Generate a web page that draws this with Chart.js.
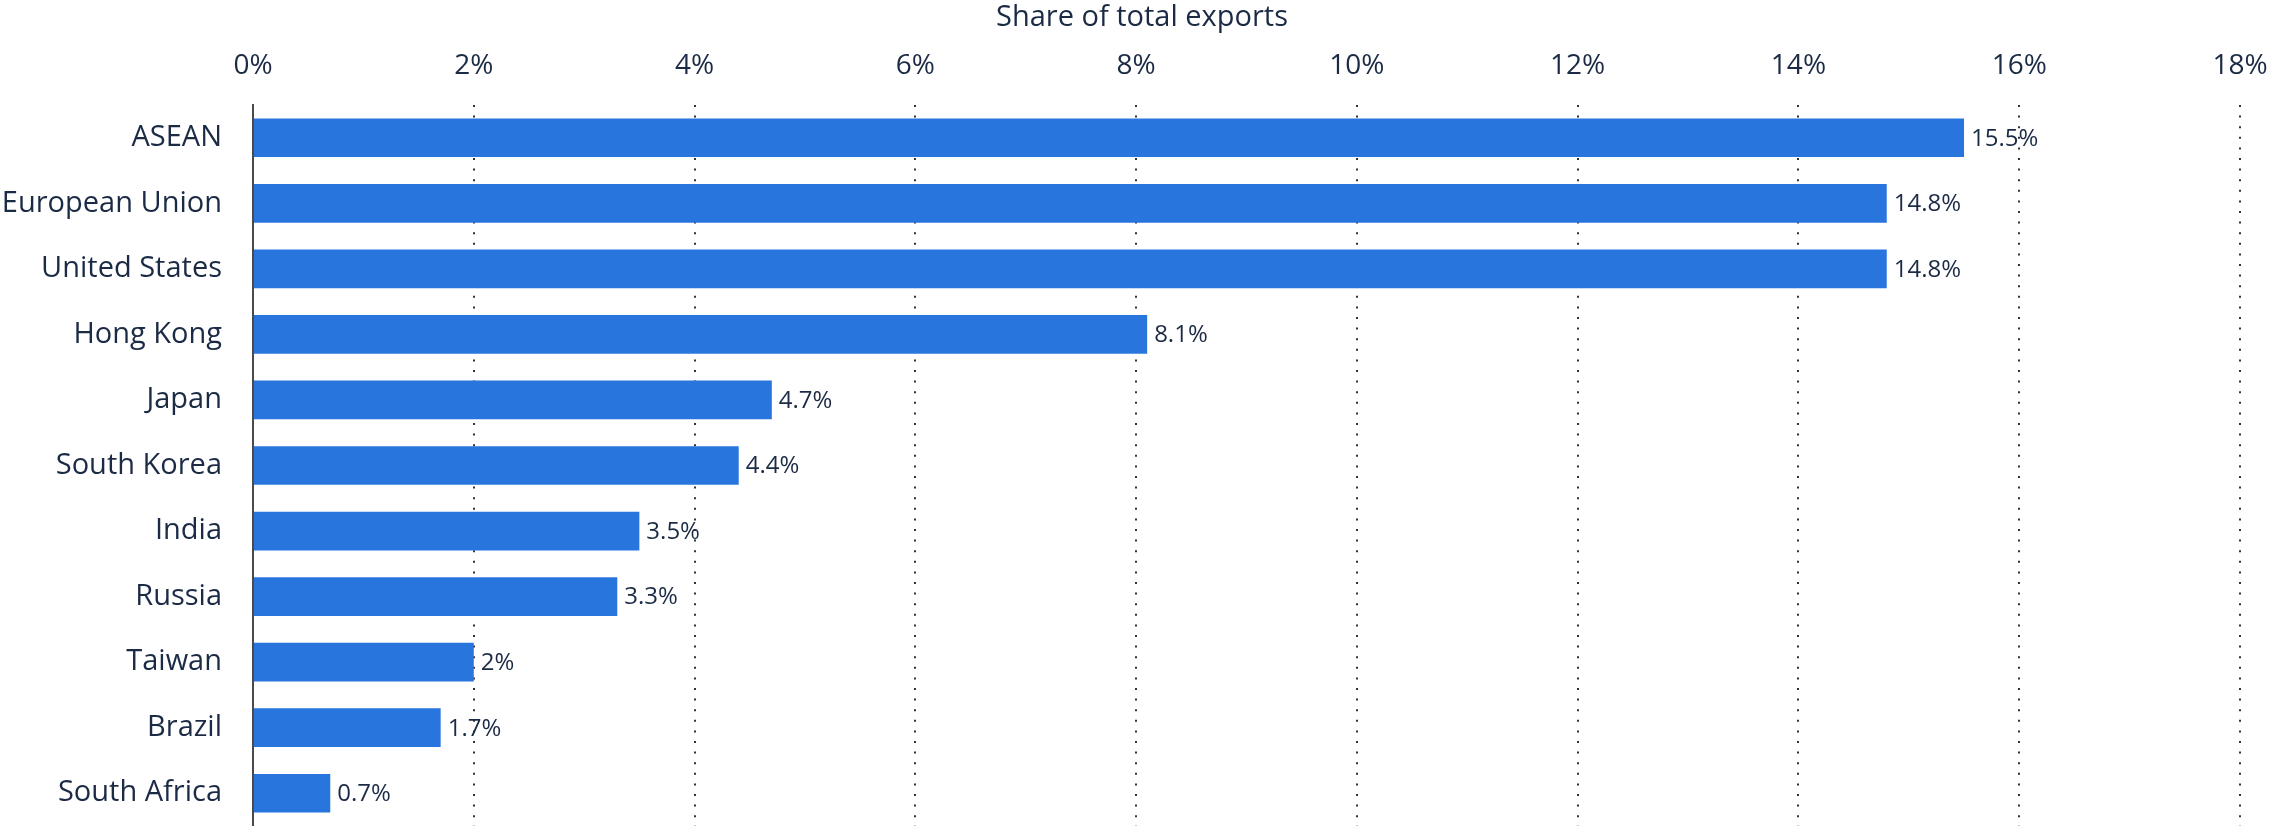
<!DOCTYPE html>
<html>
<head>
<meta charset="utf-8">
<script src="https://cdn.jsdelivr.net/npm/chart.js@4"></script>
<style>
  html, body { margin: 0; padding: 0; background: #fff; }
  #wrap { width: 2271px; height: 826px; }
</style>
</head>
<body>
<div id="wrap"><canvas id="exportsChart" width="2271" height="826"></canvas></div>
<script>
// Share of total exports by destination

const regions = ['ASEAN', 'European Union', 'United States', 'Hong Kong', 'Japan',
  'South Korea', 'India', 'Russia', 'Taiwan', 'Brazil', 'South Africa'];
const shares = [15.5, 14.8, 14.8, 8.1, 4.7, 4.4, 3.5, 3.3, 2, 1.7, 0.7];
const tickMax = 18;
const tickStep = 2;

const navy = '#1c2b45';
const barBlue = '#2876dd';

Chart.defaults.font.family = '"Open Sans", sans-serif';
Chart.defaults.color = navy;

// value labels at the end of each bar
const barLabels = {
  id: 'barLabels',
  afterDatasetsDraw(chart) {
    const ctx = chart.ctx;
    const meta = chart.getDatasetMeta(0);
    ctx.save();
    ctx.font = '24px "Open Sans", sans-serif';
    ctx.fillStyle = navy;
    ctx.textAlign = 'left';
    ctx.textBaseline = 'middle';
    meta.data.forEach((bar, i) => {
      ctx.fillText(shares[i] + '%', bar.x + 7, bar.y + 1);
    });
    ctx.restore();
  }
};

new Chart(document.getElementById('exportsChart'), {
  type: 'bar',
  data: {
    labels: regions,
    datasets: [{
      data: shares,
      backgroundColor: barBlue,
      borderWidth: 0,
      barPercentage: 0.59,
      categoryPercentage: 1
    }]
  },
  options: {
    indexAxis: 'y',
    responsive: false,
    animation: false,
    // negative right padding nudges the centred title to match the original
    layout: { padding: { left: 0, right: -13, top: 0, bottom: 0 } },
    plugins: {
      legend: { display: false },
      tooltip: { enabled: false },
      title: {
        display: true,
        text: 'Share of total exports',
        color: navy,
        font: { size: 29, weight: 'normal' },
        padding: { top: 0, bottom: 14.6 }
      }
    },
    scales: {
      x: {
        position: 'top',
        min: 0,
        max: tickMax,
        ticks: {
          stepSize: tickStep,
          padding: 22,
          color: navy,
          font: { size: 28 },
          callback: v => v + '%'
        },
        grid: {
          drawTicks: false,
          color: c => (c.tick && c.tick.value === 0) ? 'rgba(0,0,0,0)' : '#333',
          lineWidth: 2,
          borderDash: [2, 8.6]
        },
        border: { display: false, dash: [2, 8.6] },
        afterFit: scale => {
          scale.height = 55.6;
          scale.paddingLeft = 0;
          scale.paddingRight = 31;
        }
      },
      y: {
        ticks: {
          padding: 31,
          color: navy,
          font: { size: 29 }
        },
        grid: { display: false, drawTicks: false },
        border: { display: true, color: '#4a4a4a', width: 2 },
        afterFit: scale => {
          scale.width = 253;
          scale.paddingTop = 0;
          scale.paddingBottom = 0;
        }
      }
    }
  },
  plugins: [barLabels]
});
</script>
</body>
</html>
